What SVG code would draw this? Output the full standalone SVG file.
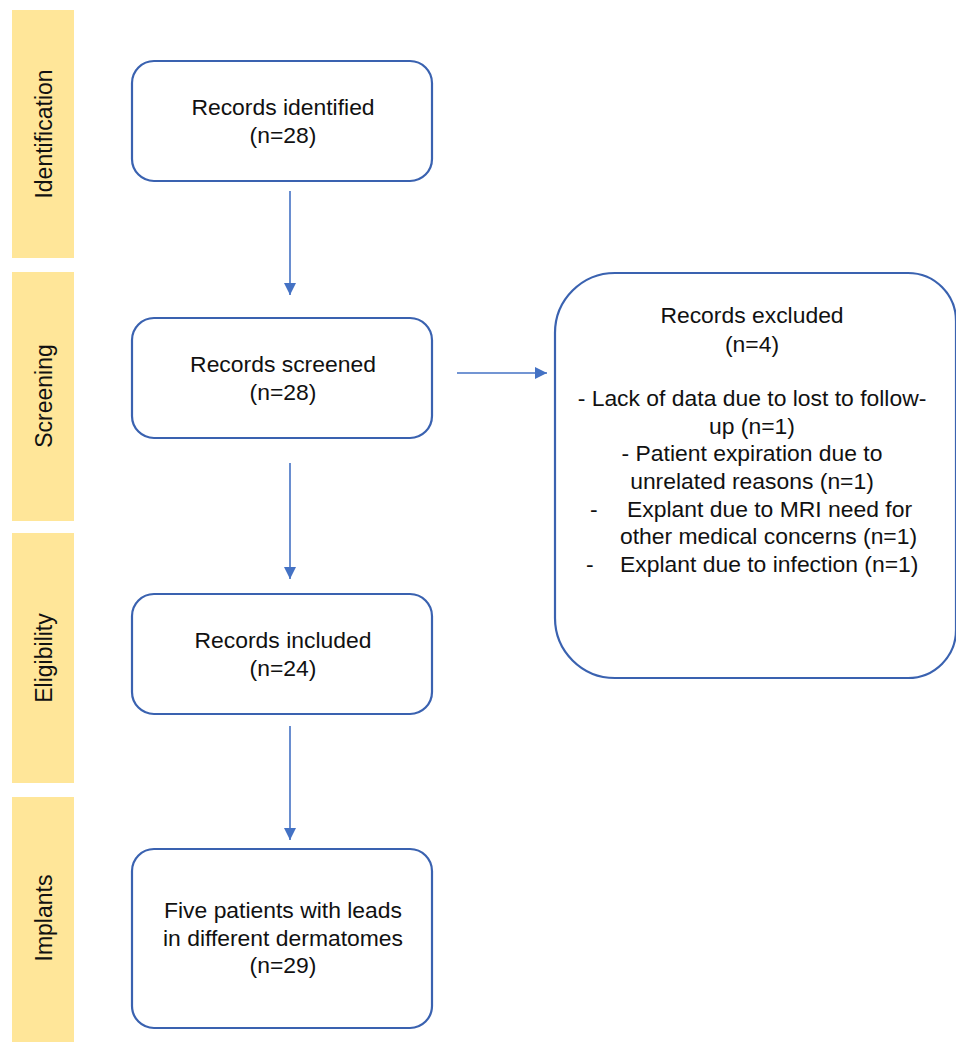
<svg xmlns="http://www.w3.org/2000/svg" width="956" height="1042" viewBox="0 0 956 1042">
<style>
.bar{fill:#FFE699;}
.box{fill:#ffffff;stroke:#3A62B0;stroke-width:2.2;}
.t{font-family:"Liberation Sans",Arial,sans-serif;font-size:22.9px;fill:#111;}
.c{text-anchor:middle;}
.side{font-family:"Liberation Sans",Arial,sans-serif;font-size:23px;fill:#111;text-anchor:middle;}
.conn{stroke:#4472C4;stroke-width:1.6;fill:none;}
</style>
<defs>
<marker id="ah" markerWidth="14" markerHeight="14" refX="12" refY="6" orient="auto" markerUnits="userSpaceOnUse">
<path d="M0,0 L12,6 L0,12 Z" fill="#4472C4"/>
</marker>
</defs>
<rect width="956" height="1042" fill="#ffffff"/>
<g id="stage-identification">
<rect class="bar" x="12" y="10" width="62" height="248"/>
<text class="side" transform="translate(52,134) rotate(-90)">Identification</text>
</g>
<g id="stage-screening">
<rect class="bar" x="12" y="272" width="62" height="249"/>
<text class="side" transform="translate(52,396) rotate(-90)">Screening</text>
</g>
<g id="stage-eligibility">
<rect class="bar" x="12" y="533" width="62" height="250"/>
<text class="side" transform="translate(52,658) rotate(-90)">Eligibility</text>
</g>
<g id="stage-implants">
<rect class="bar" x="12" y="797" width="62" height="245"/>
<text class="side" transform="translate(52,918) rotate(-90)">Implants</text>
</g>
<g id="node-identified">
<rect class="box" x="132" y="61" width="300" height="120" rx="22"/>
<text class="t c" x="283" y="115">Records identified</text>
<text class="t c" x="283" y="143">(n=28)</text>
</g>
<g id="node-screened">
<rect class="box" x="132" y="318" width="300" height="120" rx="22"/>
<text class="t c" x="283" y="372">Records screened</text>
<text class="t c" x="283" y="400">(n=28)</text>
</g>
<g id="node-included">
<rect class="box" x="132" y="594" width="300" height="120" rx="22"/>
<text class="t c" x="283" y="648">Records included</text>
<text class="t c" x="283" y="676">(n=24)</text>
</g>
<g id="node-implants">
<rect class="box" x="132" y="849" width="300" height="179" rx="22"/>
<text class="t c" x="283" y="918">Five patients with leads</text>
<text class="t c" x="283" y="946">in different dermatomes</text>
<text class="t c" x="283" y="973">(n=29)</text>
</g>
<g id="node-excluded">
<path class="box" d="M615,273 L908,273 A48,48 0 0 1 956,321 L956,630 A48,48 0 0 1 908,678 L615,678 A60,60 0 0 1 555,618 L555,333 A60,60 0 0 1 615,273 Z"/>
<text class="t c" x="752" y="323">Records excluded</text>
<text class="t c" x="752" y="352">(n=4)</text>
<text class="t c" x="752" y="406">- Lack of data due to lost to follow-</text>
<text class="t c" x="752" y="434">up (n=1)</text>
<text class="t c" x="752" y="461">- Patient expiration due to</text>
<text class="t c" x="752" y="489">unrelated reasons (n=1)</text>
<text class="t" x="590" y="517">-</text>
<text class="t" x="627" y="517">Explant due to MRI need for</text>
<text class="t" x="620" y="544">other medical concerns (n=1)</text>
<text class="t" x="586" y="572">-</text>
<text class="t" x="620" y="572">Explant due to infection (n=1)</text>
</g>
<g id="connectors">
<line class="conn" x1="290" y1="191" x2="290" y2="295" marker-end="url(#ah)"/>
<line class="conn" x1="290" y1="463" x2="290" y2="579" marker-end="url(#ah)"/>
<line class="conn" x1="290" y1="726" x2="290" y2="840" marker-end="url(#ah)"/>
<line class="conn" x1="457" y1="373" x2="547" y2="373" marker-end="url(#ah)"/>
</g>
</svg>
